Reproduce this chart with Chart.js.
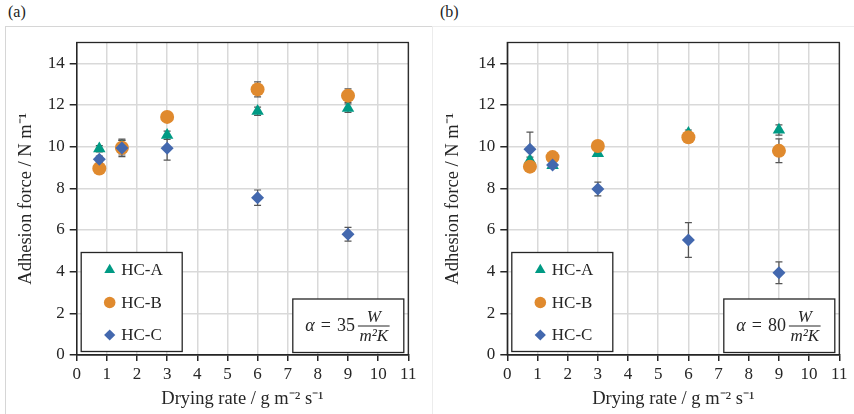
<!DOCTYPE html>
<html lang="en">
<head>
<meta charset="UTF-8">
<title>Adhesion force vs drying rate</title>
<style>
  body { margin: 0; background: #fff; font-family: "Liberation Serif", "Times New Roman", serif; }
  #figure { position: relative; width: 854px; height: 414px; overflow: hidden; }
  .frame { position: absolute; top: 26px; height: 420px; border: 1px solid #d6d6d6; }
  .tag { position: absolute; top: 3px; font-size: 16px; color: #222; }
  canvas { position: absolute; top: 0; }
</style>
</head>
<body>
<div id="figure">
  <div class="frame" style="left:5px; width:426px"></div>
  <div class="frame" style="left:432px; width:430px; border-color:#ececec"></div>
  <div class="tag" style="left:8px">(a)</div>
  <div class="tag" style="left:440px">(b)</div>
  <canvas id="chartA" width="427" height="414" style="left:0"></canvas>
  <canvas id="chartB" width="427" height="414" style="left:427px"></canvas>
</div>

<script src="https://cdn.jsdelivr.net/npm/chart.js"></script>
<script>
// measured drying rates (g m^-2 s^-1)
const dryingRate = [0.75, 1.5, 3, 6, 9];
const seriesLabels = ['HC-A', 'HC-B', 'HC-C'];

// heat transfer coefficient 35 W/m²K
const hcA35 = [9.9, 10.0, 10.55, 11.7, 11.85];
const hcA35Err = [0.15, 0.3, 0.2, 0.2, 0.2];
const hcB35 = [8.95, 9.95, 11.43, 12.75, 12.45];
const hcB35Err = [0.15, 0.35, 0.15, 0.36, 0.32];
const hcC35 = [9.4, 9.94, 9.92, 7.55, 5.8];
const hcC35Err = [0.15, 0.42, 0.57, 0.37, 0.33];

// heat transfer coefficient 80 W/m²K
const hcA80 = [9.35, 9.1, 9.68, 10.65, 10.8];
const hcA80Err = [0.15, 0.1, 0.15, 0.15, 0.25];
const hcB80 = [9.04, 9.5, 10.03, 10.45, 9.8];
const hcB80Err = [0.15, 0.15, 0.15, 0.2, 0.57];
const hcC80 = [9.88, 9.12, 7.97, 5.52, 3.95];
const hcC80Err = [0.82, 0.15, 0.33, 0.83, 0.52];

const xMax = 11;
const yMax = 15;
const yStep = 2;

const markers = [
  { pointStyle: 'triangle', radius: 7.2, legendRadius: 6.2, color: '#009a84' },
  { pointStyle: 'circle', radius: 7, legendRadius: 5.8, color: '#e08a2e' },
  { pointStyle: 'rectRot', radius: 6.5, legendRadius: 5.6, color: '#4368ae' }
];

const FONT = '"Liberation Serif", "Times New Roman", serif';
const INK = '#262626';
const GRID = '#d9d9d9';
const TICK_FONT = { family: FONT, size: 17 };
const TITLE_FONT = { family: FONT, size: 18.5 };

// vertical error bars, drawn underneath the markers
const errorBars = {
  id: 'errorBars',
  beforeDatasetsDraw(chart) {
    const { ctx } = chart;
    const y = chart.scales.y;
    ctx.save();
    ctx.strokeStyle = '#555';
    ctx.lineWidth = 1.2;
    chart.data.datasets.forEach((ds, i) => {
      chart.getDatasetMeta(i).data.forEach((pt, j) => {
        const v = ds.data[j].y, e = ds.errors[j];
        const top = y.getPixelForValue(v + e);
        const bot = y.getPixelForValue(v - e);
        ctx.beginPath();
        ctx.moveTo(pt.x, top); ctx.lineTo(pt.x, bot);
        ctx.moveTo(pt.x - 3.5, top); ctx.lineTo(pt.x + 3.5, top);
        ctx.moveTo(pt.x - 3.5, bot); ctx.lineTo(pt.x + 3.5, bot);
        ctx.stroke();
      });
    });
    ctx.restore();
  }
};

// plot frame, inset legend and the alpha annotation
const insets = {
  id: 'insets',
  afterDatasetsDraw(chart, args, opts) {
    const { ctx, chartArea: a } = chart;
    ctx.save();
    ctx.strokeStyle = INK;
    ctx.lineWidth = 1.3;
    ctx.strokeRect(a.left, a.top, a.right - a.left, a.bottom - a.top);

    // legend
    const lx = a.left + 4.5, ly = a.top + 210, lw = 101, lh = 99;
    ctx.fillStyle = '#fff';
    ctx.fillRect(lx, ly, lw, lh);
    ctx.strokeRect(lx, ly, lw, lh);
    ctx.font = '17px ' + FONT;
    ctx.textBaseline = 'middle';
    chart.data.datasets.forEach((ds, i) => {
      const cy = ly + 17.5 + i * 32.5;
      const m = markers[i];
      ctx.fillStyle = m.color;
      Chart.helpers.drawPoint(ctx, { pointStyle: m.pointStyle, radius: m.legendRadius, rotation: 0, borderWidth: 0 }, lx + 28.5, cy);
      ctx.fillStyle = INK;
      ctx.fillText(ds.label, lx + 40, cy + 1);
    });

    // alpha = value W / m²K
    const bw = 111, bh = 53.5;
    const bx = a.right - 4.5 - bw, by = a.bottom - 2.5 - bh;
    ctx.fillStyle = '#fff';
    ctx.fillRect(bx, by, bw, bh);
    ctx.strokeRect(bx, by, bw, bh);
    ctx.fillStyle = INK;
    const midY = by + 27.5;
    let x = bx + 12.5;
    ctx.textAlign = 'left';
    ctx.font = 'italic 18px ' + FONT;
    ctx.fillText('α', x, midY);
    x += ctx.measureText('α').width + 6;
    ctx.font = '18px ' + FONT;
    ctx.fillText('=', x, midY);
    x += ctx.measureText('=').width + 6;
    ctx.fillText(opts.alpha, x, midY);
    x += ctx.measureText(opts.alpha).width + 3;
    ctx.font = 'italic 17px ' + FONT;
    const fw = Math.max(ctx.measureText('W').width, ctx.measureText('m²K').width) + 3;
    ctx.textAlign = 'center';
    ctx.fillText('W', x + fw / 2, by + 19);
    ctx.fillText('m²K', x + fw / 2, by + 37.5);
    ctx.lineWidth = 1;
    ctx.beginPath();
    ctx.moveTo(x, by + 27);
    ctx.lineTo(x + fw, by + 27);
    ctx.stroke();
    ctx.restore();
  }
};

function makeChart(id, values, errors, alpha, axisLeft, rightPad) {
  const datasets = seriesLabels.map((label, i) => ({
    label,
    data: dryingRate.map((x, j) => ({ x, y: values[i][j] })),
    errors: errors[i],
    pointStyle: markers[i].pointStyle,
    pointRadius: markers[i].radius,
    pointBackgroundColor: markers[i].color,
    pointBorderWidth: 0,
    showLine: false,
    order: 2 - i
  }));

  new Chart(document.getElementById(id), {
    type: 'scatter',
    data: { datasets },
    options: {
      responsive: false,
      animation: false,
      layout: { padding: { left: 0, right: rightPad, top: 42.5, bottom: 0 } },
      scales: {
        x: {
          type: 'linear', min: 0, max: xMax,
          afterFit: s => { s.height = 59; },
          ticks: { stepSize: 1, color: INK, padding: 3, font: TICK_FONT },
          grid: { color: GRID, lineWidth: 1.5, tickColor: INK, tickLength: 6 },
          border: { color: INK, width: 1.3 },
          title: {
            display: true, text: 'Drying rate / g m⁻² s⁻¹', color: INK,
            font: TITLE_FONT, padding: { top: 0, bottom: 3.5 }
          }
        },
        y: {
          type: 'linear', min: 0, max: yMax,
          afterFit: s => { s.width = axisLeft; },
          afterBuildTicks: s => { s.ticks = s.ticks.filter(t => t.value <= yMax - 1); },
          ticks: { stepSize: yStep, color: INK, padding: 5, font: TICK_FONT },
          grid: { color: GRID, lineWidth: 1.5, tickColor: INK, tickLength: 7 },
          border: { color: INK, width: 1.3 },
          title: {
            display: true, text: 'Adhesion force / N m⁻¹', color: INK,
            font: TITLE_FONT, padding: { top: 15, bottom: 0 }
          }
        }
      },
      plugins: {
        legend: { display: false },
        tooltip: { enabled: false },
        insets: { alpha }
      }
    },
    plugins: [errorBars, insets]
  });
}

makeChart('chartA', [hcA35, hcB35, hcC35], [hcA35Err, hcB35Err, hcC35Err], '35', 76.7, 18.7);
makeChart('chartB', [hcA80, hcB80, hcC80], [hcA80Err, hcB80Err, hcC80Err], '80', 80.3, 14.7);
</script>
</body>
</html>
